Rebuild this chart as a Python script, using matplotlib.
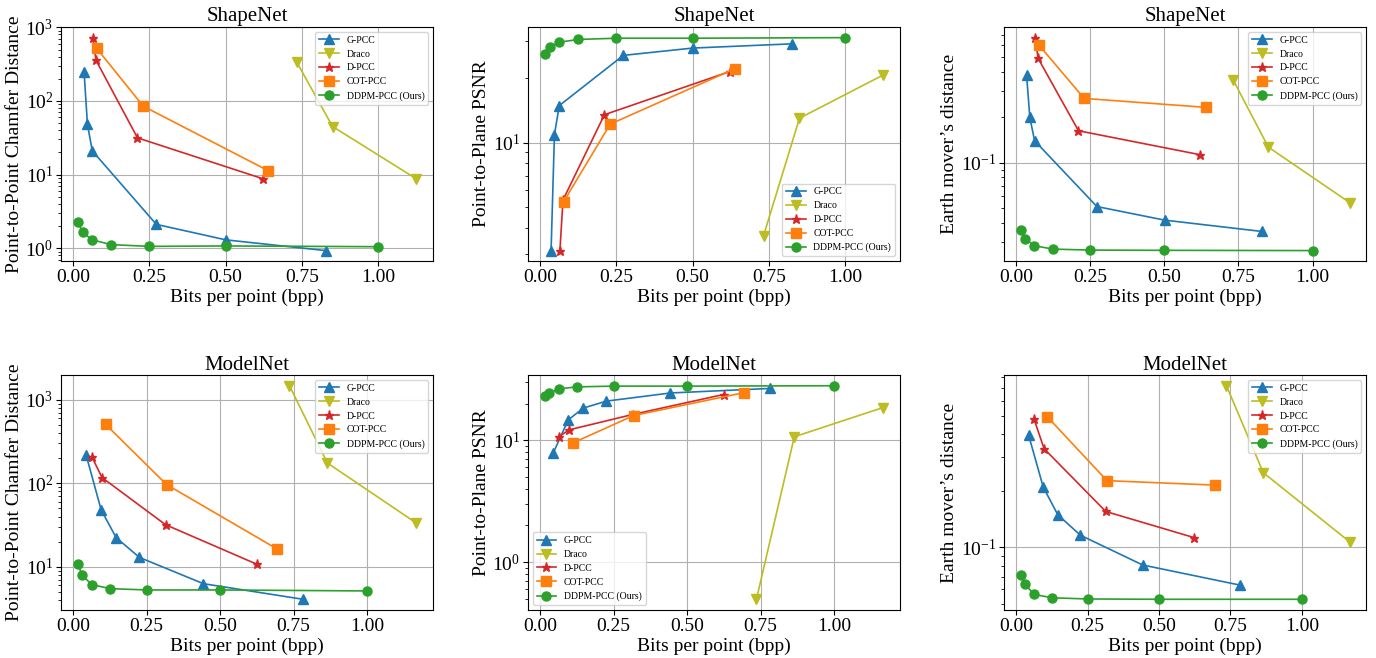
import matplotlib
matplotlib.use("Agg")
import matplotlib.pyplot as plt

plt.rcParams['font.family'] = ['Liberation Serif', 'DejaVu Serif']
plt.rcParams['mathtext.fontset'] = 'stix'

methods = ['G-PCC', 'Draco', 'D-PCC', 'COT-PCC', 'DDPM-PCC (Ours)']
colors = ['tab:blue', 'tab:olive', 'tab:red', 'tab:orange', 'tab:green']
markers = ['^', 'v', '*', 's', 'o']

# bits per point
shapenet_x = {
    'G-PCC': [0.036, 0.047, 0.063, 0.273, 0.501, 0.828],
    'Draco': [0.733, 0.851, 1.125],
    'D-PCC': [0.065, 0.075, 0.211, 0.622],
    'COT-PCC': [0.077, 0.230, 0.640],
    'DDPM-PCC (Ours)': [1 / 64, 1 / 32, 1 / 16, 1 / 8, 0.25, 0.5, 1.0],
}
modelnet_x = {
    'G-PCC': [0.044, 0.095, 0.146, 0.225, 0.443, 0.782],
    'Draco': [0.736, 0.865, 1.167],
    'D-PCC': [0.063, 0.098, 0.314, 0.624],
    'COT-PCC': [0.110, 0.318, 0.695],
    'DDPM-PCC (Ours)': [1 / 64, 1 / 32, 1 / 16, 1 / 8, 0.25, 0.5, 1.0],
}

# ShapeNet metrics
shapenet_cd = {
    'G-PCC': [249, 48, 21, 2.11, 1.30, 0.93],
    'Draco': [340, 45, 8.8],
    'D-PCC': [725, 358, 31.6, 8.8],
    'COT-PCC': [520, 85, 11.3],
    'DDPM-PCC (Ours)': [2.29, 1.64, 1.30, 1.12, 1.06, 1.075, 1.05],
}
shapenet_psnr = {
    'G-PCC': [3.12, 10.9, 14.9, 25.6, 27.7, 29.0],
    'Draco': [3.66, 13.0, 20.7],
    'D-PCC': [3.12, 5.38, 13.5, 21.5],
    'COT-PCC': [5.28, 12.2, 22.2],
    'DDPM-PCC (Ours)': [25.9, 27.9, 29.5, 30.4, 30.8, 30.8, 31.0],
}
shapenet_emd = {
    'G-PCC': [0.382, 0.200, 0.140, 0.0513, 0.0417, 0.0351],
    'Draco': [0.352, 0.127, 0.0545],
    'D-PCC': [0.675, 0.492, 0.163, 0.113],
    'COT-PCC': [0.605, 0.267, 0.233],
    'DDPM-PCC (Ours)': [0.0358, 0.0314, 0.0282, 0.0268, 0.0264, 0.0263, 0.0262],
}

# ModelNet metrics
modelnet_cd = {
    'G-PCC': [216, 48, 22.4, 13.0, 6.3, 4.1],
    'Draco': [1470, 175, 33.6],
    'D-PCC': [208, 117, 32, 10.8],
    'COT-PCC': [507, 96.4, 16.3],
    'DDPM-PCC (Ours)': [10.7, 7.9, 6.15, 5.5, 5.3, 5.3, 5.16],
}
modelnet_psnr = {
    'G-PCC': [7.87, 14.7, 18.4, 21.0, 24.5, 26.7],
    'Draco': [0.495, 10.7, 18.6],
    'D-PCC': [10.7, 12.2, 16.3, 23.8],
    'COT-PCC': [9.5, 16.0, 24.7],
    'DDPM-PCC (Ours)': [23.1, 24.4, 26.5, 27.5, 27.9, 27.9, 28.1],
}
modelnet_emd = {
    'G-PCC': [0.394, 0.209, 0.149, 0.116, 0.0806, 0.0631],
    'Draco': [0.721, 0.249, 0.107],
    'D-PCC': [0.479, 0.334, 0.155, 0.1125],
    'COT-PCC': [0.492, 0.226, 0.214],
    'DDPM-PCC (Ours)': [0.0710, 0.0637, 0.0563, 0.0540, 0.0532, 0.0530, 0.0530],
}


def plot_panel(ax, xs, ys, title, ylabel, legend_loc):
    for name, c, m in zip(methods, colors, markers):
        ms = 7 if m == 's' else 6.5
        ax.plot(xs[name], ys[name], color=c, marker=m, markersize=ms,
                linewidth=1.2, label=name)
    ax.set_yscale('log')
    ax.grid(True, color='#b0b0b0', linewidth=0.8)
    ax.set_xticks([0.0, 0.25, 0.5, 0.75, 1.0])
    ax.set_title(title, fontsize=15, pad=4)
    ax.set_xlabel('Bits per point (bpp)', fontsize=14, labelpad=2)
    ax.set_ylabel(ylabel, fontsize=14, labelpad=2)
    ax.tick_params(labelsize=14, pad=2)
    ax.legend(loc=legend_loc, fontsize=7)


fig = plt.figure(figsize=(13.76, 6.58), dpi=100)

cols = [(0.0443, 0.2704), (0.3837, 0.2703), (0.7297, 0.2631)]
rows = [(0.603, 0.356), (0.073, 0.357)]

panels = [
    (shapenet_x, shapenet_cd, 'ShapeNet', 'Point-to-Point Chamfer Distance', 'upper right'),
    (shapenet_x, shapenet_psnr, 'ShapeNet', 'Point-to-Plane PSNR', 'lower right'),
    (shapenet_x, shapenet_emd, 'ShapeNet', 'Earth mover\u2019s distance', 'upper right'),
    (modelnet_x, modelnet_cd, 'ModelNet', 'Point-to-Point Chamfer Distance', 'upper right'),
    (modelnet_x, modelnet_psnr, 'ModelNet', 'Point-to-Plane PSNR', 'lower left'),
    (modelnet_x, modelnet_emd, 'ModelNet', 'Earth mover\u2019s distance', 'upper right'),
]

for i, (xs, ys, title, ylabel, loc) in enumerate(panels):
    left, width = cols[i % 3]
    bottom, height = rows[i // 3]
    ax = fig.add_axes([left, bottom, width, height])
    plot_panel(ax, xs, ys, title, ylabel, loc)

fig.savefig('out.png', dpi=100)
